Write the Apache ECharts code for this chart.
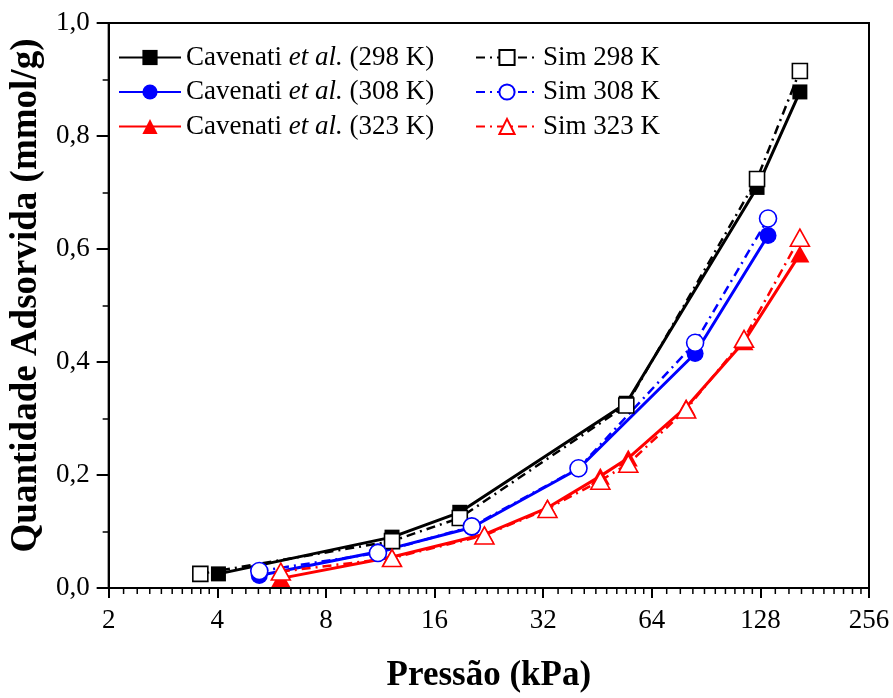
<!DOCTYPE html>
<html>
<head>
<meta charset="utf-8">
<script src="https://cdn.jsdelivr.net/npm/echarts@6/dist/echarts.min.js"></script>
<style>
  html, body { margin: 0; padding: 0; background: #fff; }
  #chart { width: 893px; height: 698px; }
</style>
</head>
<body>
<div id="chart"></div>
<script>
// Pressure (kPa) and adsorbed amount (mmol/g) for each isotherm
const p298    = [4.03, 12.2, 18.8, 54.4, 125.3, 164.7];
const cav298  = [0.025, 0.090, 0.134, 0.327, 0.709, 0.878];
const simP298 = [3.59, 12.2, 18.8, 54.4, 125.3, 164.7];
const sim298  = [0.025, 0.083, 0.124, 0.323, 0.724, 0.915];

const p308   = [5.23, 11.15, 20.3, 40.1, 84.4, 134.4];
const cav308 = [0.022, 0.064, 0.107, 0.211, 0.415, 0.624];
const sim308 = [0.030, 0.062, 0.109, 0.212, 0.434, 0.654];

const p323   = [6.0, 12.2, 22.0, 32.9, 46.1, 55.1, 79.7, 115.3, 164.7];
const cav323 = [0.017, 0.055, 0.095, 0.142, 0.198, 0.230, 0.320, 0.436, 0.591];
const sim323 = [0.029, 0.053, 0.093, 0.140, 0.190, 0.220, 0.316, 0.441, 0.620];

// Axis ticks
const xTicks = [2, 4, 8, 16, 32, 64, 128, 256];
const yMin = 0, yMax = 1, yStep = 0.2;

// Minor ticks on the log2 axis: tenths of each octave
const xMinor = [];
for (let i = 0; i < xTicks.length - 1; i++) {
  for (let k = 1; k <= 9; k++) xMinor.push(xTicks[i] * (1 + k / 10));
}

const serif = 'Liberation Serif';
const pairs = (xs, ys) => xs.map((x, i) => [x, ys[i]]);
const names = {
  c298: 'Cavenati et al. (298 K)', c308: 'Cavenati et al. (308 K)', c323: 'Cavenati et al. (323 K)',
  s298: 'Sim 298 K', s308: 'Sim 308 K', s323: 'Sim 323 K'
};
const dashDot = [9, 5, 2, 5];

function expSeries(name, xs, ys, color, symbol, size) {
  return {
    name, type: 'line', data: pairs(xs, ys), symbol, symbolSize: size,
    lineStyle: { color, width: 3 },
    itemStyle: { color, borderColor: color, borderWidth: 0 },
    emphasis: { disabled: true }, z: 2
  };
}
function simSeries(name, xs, ys, color, symbol, size) {
  return {
    name, type: 'line', data: pairs(xs, ys), symbol, symbolSize: size,
    lineStyle: { color, width: 2.5, type: dashDot },
    itemStyle: { color: '#fff', borderColor: color, borderWidth: 1.6 },
    emphasis: { disabled: true }, z: 3
  };
}

const legendText = {
  color: '#000', fontFamily: serif, fontSize: 27, lineHeight: 27,
  rich: { i: { color: '#000', fontFamily: serif, fontSize: 27, lineHeight: 27, fontStyle: 'italic' } }
};

const chart = echarts.init(document.getElementById('chart'), null, { renderer: 'canvas' });
chart.setOption({
  animation: false,
  backgroundColor: '#fff',
  grid: {
    left: 107, right: 24, top: 23, bottom: 100,
    show: true, borderColor: '#000', borderWidth: 2, backgroundColor: 'transparent'
  },
  legend: [
    {
      data: [names.c298, names.c308, names.c323],
      orient: 'vertical', left: 113, top: 39, itemWidth: 62, itemHeight: 19, itemGap: 7.5,
      textStyle: legendText, selectedMode: false,
      formatter: n => n.replace('et al.', '{i|et al.}')
    },
    {
      data: [names.s298, names.s308, names.s323],
      orient: 'vertical', left: 470, top: 39, itemWidth: 62, itemHeight: 19, itemGap: 7.5,
      textStyle: legendText, selectedMode: false
    }
  ],
  xAxis: {
    type: 'log', logBase: 2, min: xTicks[0], max: xTicks[xTicks.length - 1],
    name: 'Pressão (kPa)', nameLocation: 'middle', nameGap: 70,
    nameTextStyle: { fontFamily: serif, fontSize: 35, fontWeight: 'bold', color: '#000' },
    axisLine: { onZero: false, lineStyle: { color: '#000', width: 2 } },
    axisTick: { show: true, length: 10, lineStyle: { color: '#000', width: 2 } },
    axisLabel: {
      margin: 19, fontFamily: serif, fontSize: 27, color: '#000',
      formatter: v => (xTicks.includes(Math.round(v)) ? String(Math.round(v)) : '')
    },
    splitLine: { show: false }, minorTick: { show: false }
  },
  yAxis: {
    type: 'value', min: yMin, max: yMax, interval: yStep,
    name: 'Quantidade Adsorvida (mmol/g)', nameLocation: 'middle', nameGap: 58,
    nameTextStyle: { fontFamily: serif, fontSize: 37, fontWeight: 'bold', color: '#000', padding: [0, 0, 0, 20] },
    axisLine: { show: true, lineStyle: { color: '#000', width: 2 } },
    axisTick: { show: true, length: 12, lineStyle: { color: '#000', width: 2 } },
    minorTick: { show: true, splitNumber: 2, length: 6, lineStyle: { color: '#000', width: 1.5 } },
    axisLabel: {
      margin: 19, fontFamily: serif, fontSize: 27, color: '#000',
      formatter: v => v.toFixed(1).replace('.', ',')
    },
    splitLine: { show: false }
  },
  series: [
    expSeries(names.c298, p298, cav298, '#000000', 'rect', 15),
    expSeries(names.c308, p308, cav308, '#0000ff', 'circle', 17),
    expSeries(names.c323, p323, cav323, '#ff0000', 'triangle', [19, 17]),
    simSeries(names.s298, simP298, sim298, '#000000', 'rect', 15),
    simSeries(names.s308, p308, sim308, '#0000ff', 'circle', 17),
    simSeries(names.s323, p323, sim323, '#ff0000', 'triangle', [19, 17]),
    {
      // minor ticks along the pressure axis
      type: 'custom', silent: true, clip: false, z: 1,
      data: xMinor.map(v => [v, yMin]),
      renderItem: (params, api) => {
        const pt = api.coord([api.value(0), yMin]);
        return {
          type: 'line',
          shape: { x1: pt[0], y1: pt[1], x2: pt[0], y2: pt[1] + 6 },
          style: { stroke: '#000', lineWidth: 1.5 }
        };
      }
    }
  ]
});
</script>
</body>
</html>
